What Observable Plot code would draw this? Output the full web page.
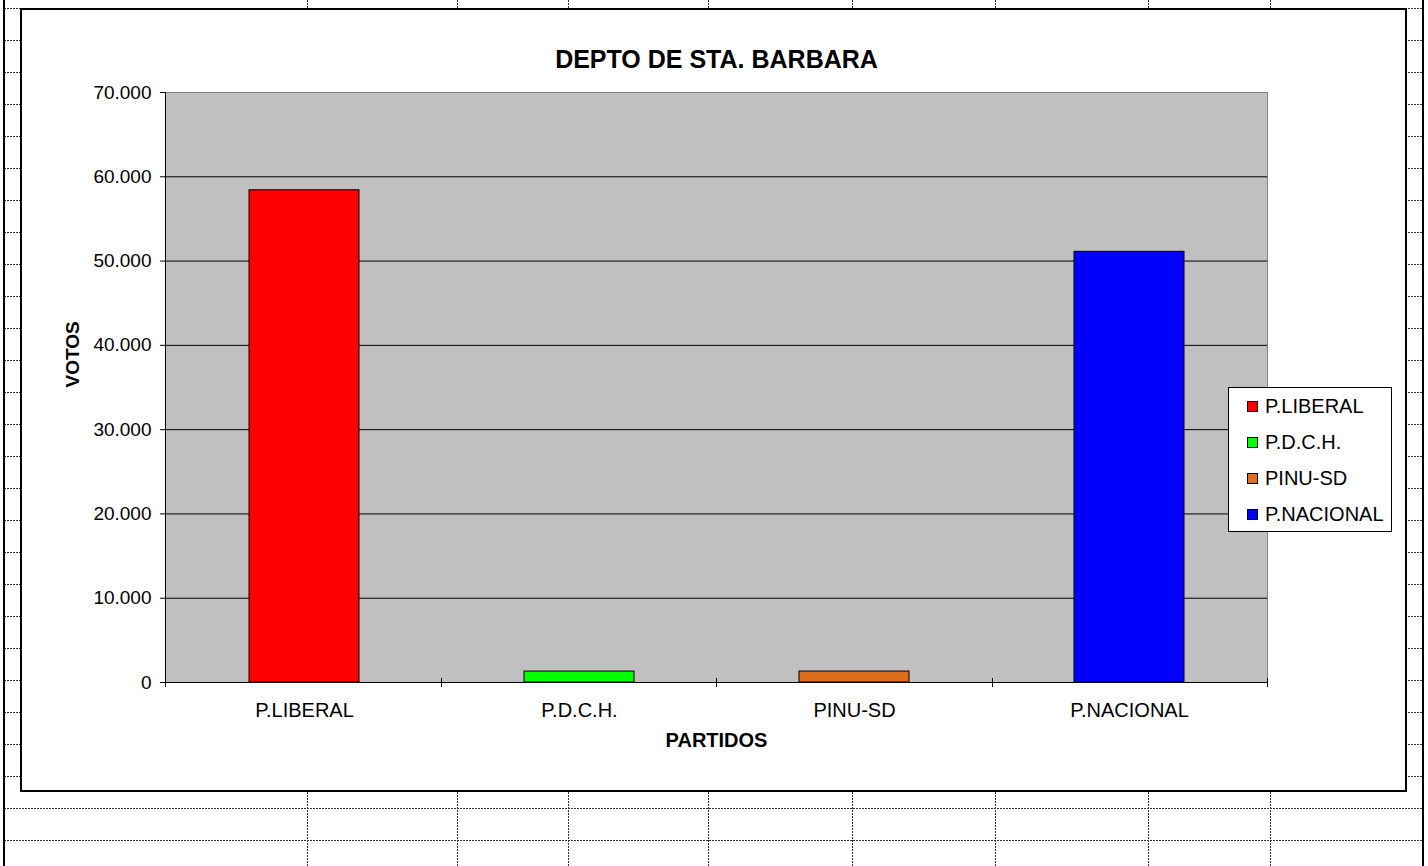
<!DOCTYPE html>
<html>
<head>
<meta charset="utf-8">
<script src="https://cdn.jsdelivr.net/npm/d3@7"></script>
<script src="https://cdn.jsdelivr.net/npm/@observablehq/plot@0.6"></script>
<style>
  html, body { margin: 0; padding: 0; background: #fff; }
  #page { position: relative; width: 1428px; height: 866px; overflow: hidden; font-family: "Liberation Sans", Arial, sans-serif; }
  #bg { position: absolute; left: 0; top: 0; }
  #frame { position: absolute; left: 20px; top: 8px; width: 1387px; height: 784px; box-sizing: border-box; border: 2px solid #000; background: #fff; }
  #chart { position: absolute; left: 0; top: 0; }
  #legend { position: absolute; left: 1228px; top: 387px; width: 164px; height: 145px; box-sizing: border-box; border: 1px solid #000; background: #fff; padding-top: 0px; }
  .item { display: flex; align-items: center; height: 36px; font-size: 20px; color: #000; }
  .sw { width: 9px; height: 9px; border: 1px solid #000; margin-left: 18px; margin-right: 7px; }
</style>
</head>
<body>
<div id="page">
  <svg id="bg" width="1428" height="866"></svg>
  <div id="frame"></div>
  <div id="chart"></div>
  <div id="legend"></div>
</div>
<script>
// ---- data ----
const partidos = ["P.LIBERAL", "P.D.C.H.", "PINU-SD", "P.NACIONAL"];
const votos = [58400, 1300, 1300, 51100];
const colores = ["#FF0000", "#00FF00", "#DE6E1E", "#0000FF"];
const yTicks = [0, 10000, 20000, 30000, 40000, 50000, 60000, 70000];
const gridTicks = [10000, 20000, 30000, 40000, 50000, 60000];
const titulo = "DEPTO DE STA. BARBARA";
const tituloY = "VOTOS";
const tituloX = "PARTIDOS";

// ---- spreadsheet background decoration ----
const sheetCols = [307, 457, 568, 708, 852, 995, 1148, 1270];
const bg = d3.select("#bg");
const dash = {stroke: "#333", "stroke-dasharray": "2,1", "stroke-width": 1};
for (let y = 8; y < 866; y += 32) {
  const l = bg.append("line").attr("x1", 4).attr("x2", 1423).attr("y1", y + 0.5).attr("y2", y + 0.5);
  Object.entries(dash).forEach(([k, v]) => l.attr(k, v));
}
for (const x of sheetCols) {
  const l = bg.append("line").attr("x1", x + 0.5).attr("x2", x + 0.5).attr("y1", 0).attr("y2", 866);
  Object.entries(dash).forEach(([k, v]) => l.attr(k, v));
}
bg.append("line").attr("x1", 4).attr("x2", 4).attr("y1", 0).attr("y2", 866).attr("stroke", "#000").attr("stroke-width", 2);
bg.append("line").attr("x1", 1423).attr("x2", 1423).attr("y1", 0).attr("y2", 866).attr("stroke", "#000").attr("stroke-width", 2);

// ---- chart ----
const data = partidos.map((p, i) => ({partido: p, votos: votos[i], color: colores[i]}));
const fmt = d => d3.format(",")(d).replace(/,/g, ".");

// y-axis line and category boundary ticks, drawn from the frame dimensions
function axisLine(index, scales, values, dims) {
  const g = d3.create("svg:g");
  const x0 = dims.marginLeft;
  const yb = dims.height - dims.marginBottom;
  g.append("line").attr("x1", x0 + 0.5).attr("x2", x0 + 0.5)
    .attr("y1", dims.marginTop).attr("y2", yb + 5).attr("stroke", "#000");
  const n = partidos.length;
  const step = (dims.width - dims.marginLeft - dims.marginRight) / n;
  for (let i = 1; i <= n; i++) {
    const x = Math.round(dims.marginLeft + i * step) + 0.5;
    g.append("line").attr("x1", x).attr("x2", x)
      .attr("y1", yb - 4).attr("y2", yb + 5).attr("stroke", "#000");
  }
  return g.node();
}

const plot = Plot.plot({
  width: 1428,
  height: 866,
  marginLeft: 165,
  marginRight: 161,
  marginTop: 92,
  marginBottom: 184,
  style: {background: "transparent", fontFamily: "'Liberation Sans', Arial, sans-serif", fontSize: "19px", color: "#000"},
  x: {domain: partidos, paddingInner: 0.6, paddingOuter: 0.3, label: null},
  y: {domain: [0, 70000], label: null},
  marks: [
    Plot.frame({fill: "#C0C0C0", stroke: "#808080"}),
    Plot.ruleY(gridTicks, {stroke: "#000", strokeWidth: 1}),
    Plot.barY(data, {x: "partido", y: "votos", fill: "color", stroke: "#000", strokeWidth: 1}),
    Plot.ruleY([0], {stroke: "#000"}),
    axisLine,
    Plot.axisY(yTicks, {tickSize: 5, tickPadding: 9, tickFormat: fmt, fontSize: 19, stroke: "#000", label: null}),
    Plot.axisX({tickSize: 0, tickPadding: 20, fontSize: 20, label: null}),
    Plot.text([titulo], {frameAnchor: "top", dy: -33, fontSize: 25, fontWeight: "bold", lineAnchor: "middle"}),
    Plot.text([tituloX], {frameAnchor: "bottom", dy: 58, fontSize: 20, fontWeight: "bold", lineAnchor: "middle"}),
    Plot.text([tituloY], {frameAnchor: "left", dx: -93, rotate: -90, fontSize: 19, fontWeight: "bold", lineAnchor: "middle"})
  ]
});
document.getElementById("chart").appendChild(plot);

// ---- legend ----
const legend = d3.select("#legend");
data.forEach(d => {
  const it = legend.append("div").attr("class", "item");
  it.append("div").attr("class", "sw").style("background", d.color);
  it.append("span").text(d.partido);
});
</script>
</body>
</html>
